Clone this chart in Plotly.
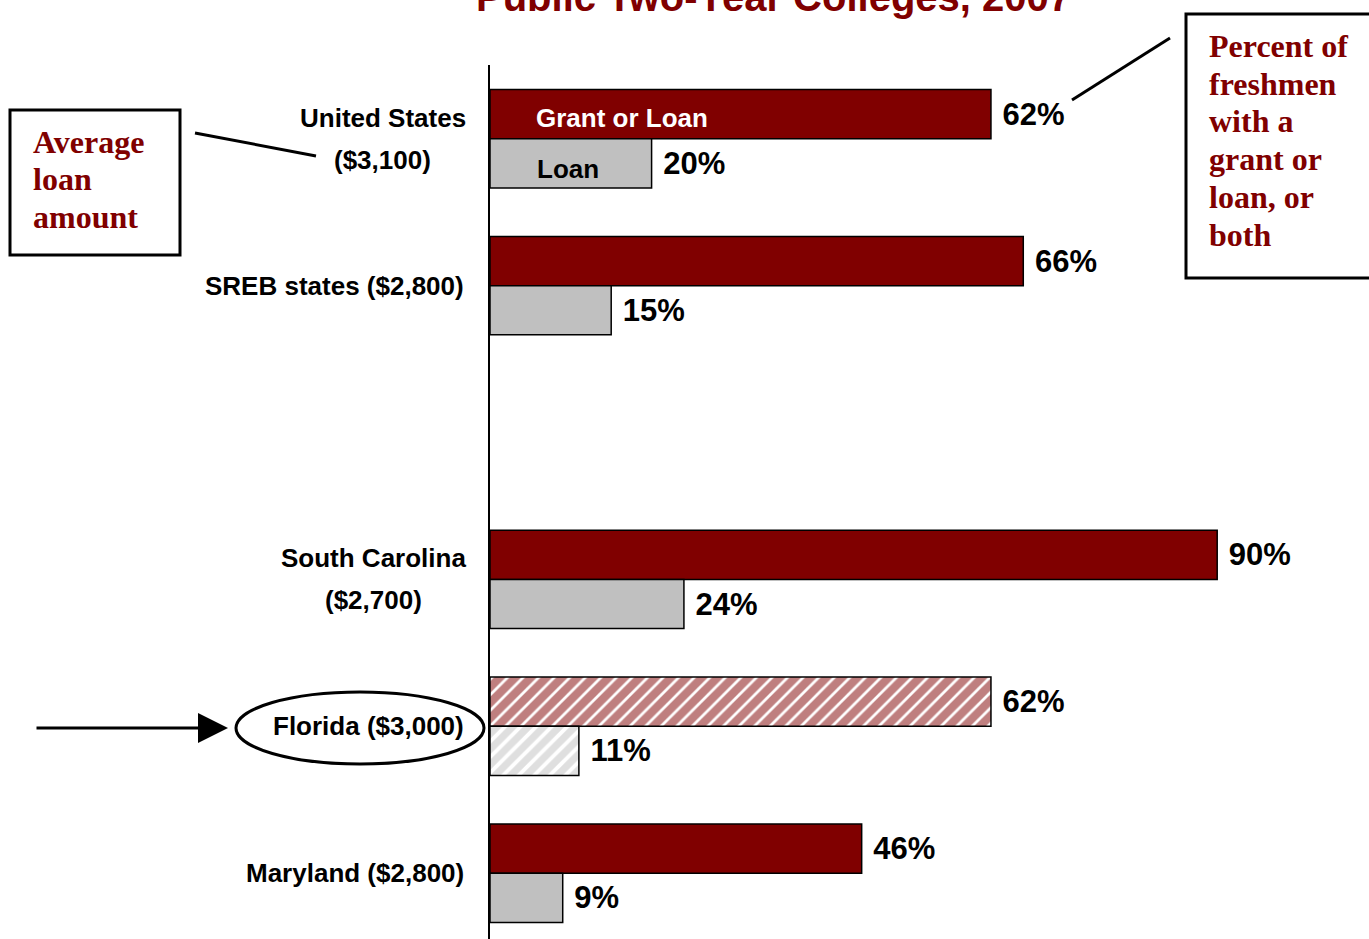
import plotly.graph_objects as go

# data
categories = ["United States", "SREB states", "South Carolina", "Florida", "Maryland"]
loan_amounts = ["$3,100", "$2,800", "$2,700", "$3,000", "$2,800"]
grant_or_loan = [62, 66, 90, 62, 46]
loan_only = [20, 15, 24, 11, 9]
slots = [0, 1, 3, 4, 5]          # slot 2 is left empty
two_lines = [True, False, True, False, False]
hatched = [False, False, False, True, False]

W, H = 1369, 939
ML, MR, MT, MB = 490, 0, 65, 0
DARK_RED = "#800000"
GREY = "#c0c0c0"
SANS = "Liberation Sans, Arial, sans-serif"
SERIF = "Liberation Serif, Times New Roman, serif"

# Arial bold advance widths (1/1000 em), enough to centre the wrapped labels
ARIAL_BOLD = {'U': 722, 'S': 667, 'C': 722, 'n': 611, 'i': 278, 't': 333, 'e': 556,
              'd': 611, 'a': 556, 's': 556, 'o': 611, 'u': 611, 'h': 611, 'r': 389,
              'l': 278, ' ': 278}


def text_width(txt, size):
    return sum(ARIAL_BOLD.get(c, 556) for c in txt) * size / 1000.0


def px(x):
    return (x - ML) / (W - ML - MR)


def py(y):
    return 1 - (y - MT) / (H - MT - MB)


def bar(values, color, name, solidity):
    return go.Bar(y=slots, x=values, orientation='h', name=name,
                  marker=dict(color=color,
                              line=dict(color='black', width=1.5),
                              pattern=dict(shape=['/' if h else '' for h in hatched],
                                           fgcolor=color, bgcolor='white',
                                           size=11, solidity=solidity)),
                  text=['\u00a0%d%%' % v for v in values],
                  textposition='outside', constraintext='none', cliponaxis=False,
                  textfont=dict(family=SANS, size=31, color='black', weight='bold'),
                  hoverinfo='skip')


fig = go.Figure(data=[bar(grant_or_loan, DARK_RED, 'Grant or Loan', 0.75),
                      bar(loan_only, GREY, 'Loan', 0.65)])

annotations = []
LABEL_SIZE = 26
for cat, amt, s, wrap in zip(categories, loan_amounts, slots, two_lines):
    if wrap:
        # both lines centred on the first one, which is right-aligned to the axis
        centre = -24 - text_width(cat, LABEL_SIZE) / 2
        for txt, sh in [(cat, 21), ('(%s)' % amt, -21)]:
            annotations.append(dict(x=0, y=s, xref='x', yref='y', text='<b>%s</b>' % txt,
                                    showarrow=False, xanchor='center', yanchor='middle',
                                    xshift=centre, yshift=sh,
                                    font=dict(family=SANS, size=LABEL_SIZE, color='black')))
    else:
        annotations.append(dict(x=0, y=s, xref='x', yref='y',
                                text='<b>%s (%s)</b>' % (cat, amt),
                                showarrow=False, xanchor='right', yanchor='middle', xshift=-24,
                                font=dict(family=SANS, size=LABEL_SIZE, color='black')))

# in-bar series labels
annotations.append(dict(x=5.5, y=0, xref='x', yref='y', text='<b>Grant or Loan</b>',
                        showarrow=False, xanchor='left', yshift=21,
                        font=dict(family=SANS, size=26, color='white')))
annotations.append(dict(x=5.6, y=0, xref='x', yref='y', text='<b>Loan</b>',
                        showarrow=False, xanchor='left', yshift=-30,
                        font=dict(family=SANS, size=26, color='black')))

# title (cut off at the top in the original)
annotations.append(dict(x=px(773), y=py(-3), xref='paper', yref='paper',
                        text='<b>Public Two-Year Colleges, 2007</b>', showarrow=False,
                        xanchor='center', yanchor='middle',
                        font=dict(family=SANS, size=40, color=DARK_RED)))


# callout texts, one annotation per line to keep the tight line pitch
def callout(lines, x, first_baseline, pitch):
    for i, txt in enumerate(lines):
        annotations.append(dict(x=px(x), y=py(first_baseline + i * pitch - 11),
                                xref='paper', yref='paper', text='<b>%s</b>' % txt,
                                showarrow=False, xanchor='left', yanchor='middle',
                                font=dict(family=SERIF, size=32, color=DARK_RED)))


callout(['Average', 'loan', 'amount'], 31, 153, 37.5)
callout(['Percent of', 'freshmen', 'with a', 'grant or', 'loan, or', 'both'], 1207, 57, 37.7)

# arrow pointing at Florida
annotations.append(dict(x=px(228), y=py(728), xref='paper', yref='paper', text='',
                        showarrow=True, ax=-193, ay=0, arrowhead=2, arrowsize=2.0,
                        arrowwidth=3, arrowcolor='black'))

shapes = [
    dict(type='rect', xref='paper', yref='paper', x0=px(10), x1=px(180), y0=py(110), y1=py(255),
         line=dict(color='black', width=3)),
    dict(type='rect', xref='paper', yref='paper', x0=px(1186), x1=px(1375), y0=py(14), y1=py(278),
         line=dict(color='black', width=3)),
    dict(type='line', xref='paper', yref='paper', x0=px(195), x1=px(316), y0=py(133), y1=py(156),
         line=dict(color='black', width=3)),
    dict(type='line', xref='paper', yref='paper', x0=px(1072), x1=px(1170), y0=py(100), y1=py(38),
         line=dict(color='black', width=3)),
    dict(type='circle', xref='paper', yref='paper', x0=px(236), x1=px(484), y0=py(692), y1=py(764),
         line=dict(color='black', width=3)),
]

fig.update_layout(width=W, height=H, barmode='group', bargap=0.33,
                  plot_bgcolor='white', paper_bgcolor='white', showlegend=False,
                  margin=dict(l=ML, r=MR, t=MT, b=MB),
                  xaxis=dict(visible=False, range=[0, (W - ML - MR) / 8.08]),
                  yaxis=dict(range=[5.448, -0.502], showline=True, linecolor='black',
                             linewidth=2, showticklabels=False, showgrid=False,
                             zeroline=False, ticks=''),
                  annotations=annotations, shapes=shapes)

fig.write_html("out.html", config={'displayModeBar': False},
               post_script="document.body.style.margin='0';")
